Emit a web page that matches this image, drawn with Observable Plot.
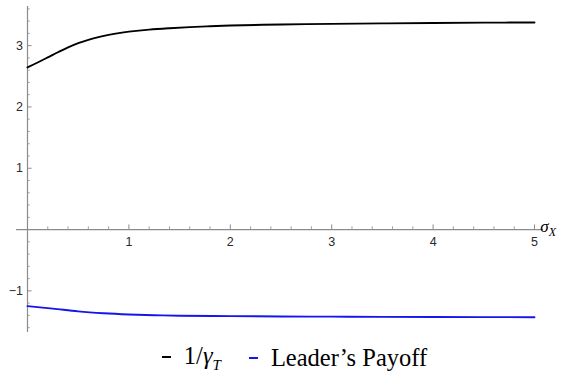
<!DOCTYPE html>
<html><head><meta charset="utf-8">
<script src="https://cdn.jsdelivr.net/npm/d3@7"></script>
<script src="https://cdn.jsdelivr.net/npm/@observablehq/plot@0.6"></script>
<style>
body{margin:0;background:#fff;}
#legend{height:37px;display:flex;justify-content:center;align-items:center;font-family:"Liberation Serif","DejaVu Serif",serif;font-size:24.5px;color:#000;padding:0 0 2px 18px;box-sizing:border-box;}
.sw{display:inline-block;width:9px;height:2px;margin:0 13px 0 0;vertical-align:middle;position:relative;top:0px}
.item{margin:0 14px;display:inline-flex;align-items:center}
</style>
</head><body>
<div id="chart"></div>
<div id="legend"></div>
<script>
// sigma_X grid and series values
const sigmaA = [0, 0.1, 0.2, 0.3, 0.4, 0.5, 0.6, 0.7, 0.8, 0.9, 1.0, 1.2, 1.4, 1.6, 1.8, 2.0, 2.5, 3.0, 3.5, 4.0, 4.5, 5.0];
const invGamma = [2.645, 2.725, 2.808, 2.892, 2.972, 3.04, 3.095, 3.14, 3.175, 3.205, 3.228, 3.262, 3.285, 3.303, 3.317, 3.328, 3.345, 3.355, 3.363, 3.37, 3.375, 3.378];
const sigmaB = [0, 0.25, 0.5, 0.75, 1.0, 1.25, 1.5, 2.0, 2.5, 3.0, 3.5, 4.0, 4.5, 5.0];
const payoff = [-1.25, -1.29, -1.335, -1.365, -1.385, -1.398, -1.405, -1.413, -1.418, -1.421, -1.424, -1.426, -1.428, -1.43];
const xTicks = [1, 2, 3, 4, 5];
const yTicks = [-1, 1, 2, 3];
const seriesNames = ["1/γT", "Leader’s Payoff"];
const seriesColors = ["#000000", "#1515ee"];

const xMinor = d3.range(1, 26).map(i => i / 5).filter(v => !xTicks.includes(Math.round(v * 1000) / 1000));
const yMinor = d3.range(-8, 19).map(i => i / 5).filter(v => v !== 0 && !yTicks.includes(Math.round(v * 1000) / 1000));

const dataA = sigmaA.map((s, i) => ({s, v: invGamma[i]}));
const dataB = sigmaB.map((s, i) => ({s, v: payoff[i]}));

const axisCol = "#8c8c8c";
const W = 571, H = 340;
const plot = Plot.plot({
  width: W, height: H,
  marginLeft: 27, marginRight: 37, marginTop: 14.5, marginBottom: 19,
  x: {domain: [0, 5], axis: null},
  y: {domain: [-1.5, 3.5], axis: null},
  style: {background: "#fff", overflow: "visible"},
  marks: [
    Plot.ruleY([0], {x1: -0.108, x2: 5.09, stroke: axisCol, strokeWidth: 1.2, clip: false}),
    Plot.ruleX([0], {y1: -1.68, y2: 3.64, stroke: axisCol, strokeWidth: 1.2, clip: false}),
    Plot.ruleX(xTicks, {x: d => d, y1: 0, y2: 0.075, stroke: axisCol, strokeWidth: 1}),
    Plot.ruleX(xMinor, {x: d => d, y1: 0, y2: 0.045, stroke: axisCol, strokeWidth: 0.8}),
    Plot.ruleY(yTicks, {y: d => d, x1: 0, x2: 0.045, stroke: axisCol, strokeWidth: 1}),
    Plot.ruleY(yMinor, {y: d => d, x1: 0, x2: 0.027, stroke: axisCol, strokeWidth: 0.8}),
    Plot.text(xTicks, {x: d => d, y: 0, text: d => String(d), dy: 12, fill: "#2a2a2a", fontSize: 12.5, fontFamily: "Liberation Sans, Arial, sans-serif"}),
    Plot.text(yTicks, {x: 0, y: d => d, text: d => (d < 0 ? "\u2212" : "") + Math.abs(d), dx: -4.5, textAnchor: "end", fill: "#2a2a2a", fontSize: 12.5, fontFamily: "Liberation Sans, Arial, sans-serif"}),
    Plot.line(dataA, {x: "s", y: "v", stroke: seriesColors[0], strokeWidth: 1.9, curve: "catmull-rom"}),
    Plot.line(dataB, {x: "s", y: "v", stroke: seriesColors[1], strokeWidth: 1.9, curve: "catmull-rom"})
  ]
});
document.getElementById("chart").appendChild(plot);

// axis label sigma_X placed with the plot's own scales
const sx = plot.scale("x"), sy = plot.scale("y");
const lbl = d3.select(plot).append("text")
  .attr("x", sx.apply(5.09) + 5)
  .attr("y", sy.apply(0) + 3)
  .attr("font-family", "Liberation Serif, DejaVu Serif, serif")
  .attr("font-style", "italic")
  .attr("fill", "#000");
lbl.append("tspan").attr("font-size", 17).text("σ");
lbl.append("tspan").attr("font-size", 12).attr("dy", 4).text("X");

// legend
const leg = document.getElementById("legend");
seriesNames.forEach((name, i) => {
  const it = document.createElement("span");
  it.className = "item";
  const sw = document.createElement("span");
  sw.className = "sw";
  sw.style.background = seriesColors[i];
  it.appendChild(sw);
  const t = document.createElement("span");
  if (i === 0) {
    t.innerHTML = "1/<i>γ</i><sub style='font-size:15px;font-style:italic'>T</sub>";
  } else {
    t.textContent = name;
  }
  it.appendChild(t);
  leg.appendChild(it);
});
</script>
</body></html>
